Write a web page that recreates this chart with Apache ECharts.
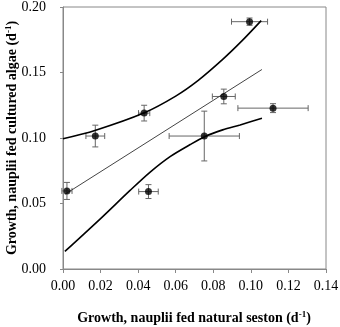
<!DOCTYPE html>
<html>
<head>
<meta charset="utf-8">
<script src="https://cdn.jsdelivr.net/npm/echarts@6.0.0/dist/echarts.min.js"></script>
<style>
  html, body { margin: 0; padding: 0; background: #fff; }
  #chart { width: 340px; height: 327px; }
</style>
</head>
<body>
<div id="chart"></div>
<script>
  // 数据点
  const xVals = [0.0021, 0.0172, 0.0432, 0.0455, 0.0752, 0.0856, 0.0993, 0.1118];
  const yVals = [0.0596, 0.1015, 0.1190, 0.0591, 0.1015, 0.1317, 0.1888, 0.1228];
  const xErr = [0.0027, 0.0050, 0.0030, 0.0052, 0.0187, 0.0061, 0.0096, 0.0187];
  const yErr = [0.0065, 0.0083, 0.0060, 0.0053, 0.0190, 0.0056, 0.0028, 0.0034];

  // 回归线
  const fitX = [0.0010, 0.1059];
  const fitY = [0.0570, 0.1523];

  // 置信带
  const upperX = [0.0000, 0.0170, 0.0433, 0.0600, 0.0720, 0.0850, 0.0955, 0.1055];
  const upperY = [0.0995, 0.1058, 0.1193, 0.1320, 0.1440, 0.1600, 0.1745, 0.1896];
  const lowerX = [0.0010, 0.0200, 0.0357, 0.0464, 0.0570, 0.0677, 0.0757, 0.0850, 0.0943, 0.1059];
  const lowerY = [0.0134, 0.0385, 0.0600, 0.0740, 0.0858, 0.0950, 0.1012, 0.1062, 0.1100, 0.1150];

  const xTicks = { min: 0, max: 0.14, interval: 0.02 };
  const yTicks = { min: 0, max: 0.20, interval: 0.05 };

  const xTitle = '{t|Growth, nauplii fed natural seston (d}{sup|-1}{t|)}';
  const yTitle = '{t|Growth, nauplii fed cultured algae (d}{sup|-1}{t|)}';

  const zip = (a, b) => a.map((v, i) => [v, b[i]]);
  const axisGray = '#888';
  const font = 'Liberation Serif';

  const titleRich = {
    t: { fontFamily: font, fontSize: 14, fontWeight: 'bold', fill: '#000', color: '#000' },
    sup: { fontFamily: font, fontSize: 9, fontWeight: 'bold', fill: '#000', color: '#000', padding: [0, 0, 7, 0] }
  };

  const chart = echarts.init(document.getElementById('chart'));

  chart.setOption({
    animation: false,
    grid: {
      left: 63, right: 14, top: 7, bottom: 58,
      outerBoundsMode: 'none',
      show: true, borderColor: axisGray, borderWidth: 1
    },
    graphic: [
      {
        type: 'text', x: 194, y: 318,
        style: { text: xTitle, rich: titleRich, align: 'center', verticalAlign: 'middle' }
      },
      {
        type: 'text', x: 12, y: 138, rotation: Math.PI / 2,
        style: { text: yTitle, rich: titleRich, align: 'center', verticalAlign: 'middle' }
      }
    ],
    xAxis: {
      type: 'value',
      min: xTicks.min, max: xTicks.max, interval: xTicks.interval,
      axisLine: { show: true, lineStyle: { color: axisGray } },
      axisTick: { show: true, inside: false, length: 4, lineStyle: { color: axisGray } },
      splitLine: { show: false },
      axisLabel: {
        color: '#000', fontFamily: font, fontSize: 14, margin: 10,
        formatter: v => v.toFixed(2)
      }
    },
    yAxis: {
      type: 'value',
      min: yTicks.min, max: yTicks.max, interval: yTicks.interval,
      axisLine: { show: true, lineStyle: { color: axisGray } },
      axisTick: { show: true, inside: false, length: 3, lineStyle: { color: axisGray } },
      splitLine: { show: false },
      axisLabel: {
        color: '#000', fontFamily: font, fontSize: 14, margin: 17,
        formatter: v => v.toFixed(2)
      }
    },
    series: [
      {
        type: 'line', data: zip(upperX, upperY), smooth: 0.3, symbol: 'none',
        lineStyle: { color: '#000', width: 1.6 }
      },
      {
        type: 'line', data: zip(lowerX, lowerY), smooth: 0.3, symbol: 'none',
        lineStyle: { color: '#000', width: 1.6 }
      },
      {
        type: 'line', data: zip(fitX, fitY), symbol: 'none',
        lineStyle: { color: '#444', width: 1 }
      },
      {
        // 误差线
        type: 'custom',
        data: xVals.map((x, i) => [x, yVals[i], xErr[i], yErr[i]]),
        encode: { x: 0, y: 1 },
        renderItem: function (params, api) {
          const x = api.value(0), y = api.value(1);
          const ex = api.value(2), ey = api.value(3);
          const c = api.coord([x, y]);
          const l = api.coord([x - ex, y]);
          const r = api.coord([x + ex, y]);
          const t = api.coord([x, y + ey]);
          const b = api.coord([x, y - ey]);
          const cap = 3;
          const st = { stroke: '#666', lineWidth: 1 };
          const seg = (x1, y1, x2, y2) => ({ type: 'line', shape: { x1, y1, x2, y2 }, style: st });
          return {
            type: 'group',
            children: [
              seg(l[0], c[1], r[0], c[1]),
              seg(l[0], c[1] - cap, l[0], c[1] + cap),
              seg(r[0], c[1] - cap, r[0], c[1] + cap),
              seg(c[0], t[1], c[0], b[1]),
              seg(c[0] - cap, t[1], c[0] + cap, t[1]),
              seg(c[0] - cap, b[1], c[0] + cap, b[1])
            ]
          };
        },
        z: 3
      },
      {
        type: 'scatter', data: zip(xVals, yVals), symbol: 'circle', symbolSize: 7,
        itemStyle: { color: '#000' }, z: 4
      }
    ]
  });
</script>
</body>
</html>
